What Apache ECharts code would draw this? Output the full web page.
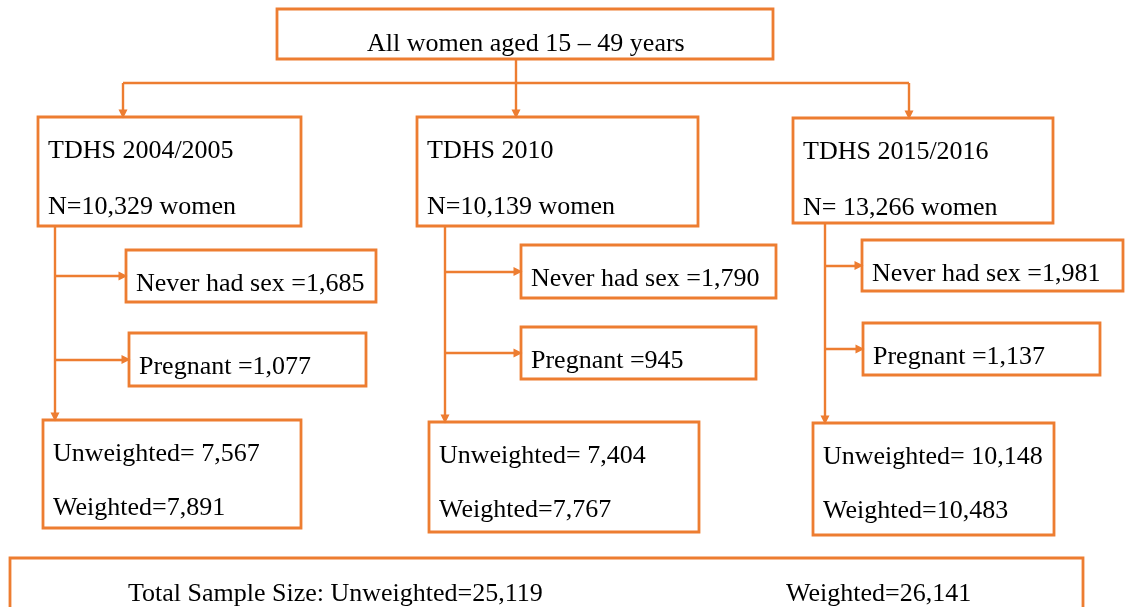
<!DOCTYPE html>
<html lang="en">
<head>
    <meta charset="UTF-8">
    <title>TDHS sample flow</title>
    <script src="https://cdn.jsdelivr.net/npm/echarts@6/dist/echarts.min.js"></script>
    <style>
        html, body { margin: 0; padding: 0; background: #fff; }
    </style>
</head>
<body>
    <div id="main" style="width:1128px;height:607px;"></div>

    <script>
    // ---- data ----
    var rootLabel = 'All women aged 15 \u2013 49 years';
    var surveys = ['TDHS 2004/2005', 'TDHS 2010', 'TDHS 2015/2016'];
    var womenN = [10329, 10139, 13266];
    var womenPrefix = ['N=', 'N=', 'N= '];
    var neverHadSex = [1685, 1790, 1981];
    var pregnant = [1077, 945, 1137];
    var unweighted = [7567, 7404, 10148];
    var weighted = [7891, 7767, 10483];
    var totalUnweighted = 25119;
    var totalWeighted = 26141;

    // ---- layout (pixel units on the hidden axes) ----
    var rootBox = [277, 9, 773, 59];
    var dropX = [123, 516, 909];          // where the arrows drop into each survey box
    var busY = 83;
    var trunkX = [55, 445, 825];
    var surveyBox = [[38, 117, 301, 226], [417, 117, 698, 226], [793, 118, 1053, 223]];
    var neverBox = [[126, 250, 376, 302], [521, 245, 776, 298], [862, 240, 1123, 291]];
    var pregBox = [[129, 333, 366, 386], [521, 327, 756, 379], [863, 323, 1100, 375]];
    var resultBox = [[43, 420, 301, 528], [429, 422, 699, 532], [813, 423, 1054, 535]];
    var totalBox = [10, 558, 1083, 625];
    var pad = 10;

    var ORANGE = '#ED7D31';
    var FONT = '26px "Liberation Serif", "Times New Roman", serif';

    function fmt(n) {
        return String(n).replace(/\B(?=(\d{3})+(?!\d))/g, ',');
    }

    // boxes: rect + text lines (dx, dy from box top-left)
    var boxes = [];
    boxes.push({ rect: rootBox, lines: [{ text: rootLabel, dx: 90, dy: 35 }] });
    for (var i = 0; i < surveys.length; i++) {
        boxes.push({ rect: surveyBox[i], lines: [
            { text: surveys[i], dx: pad, dy: 34 },
            { text: womenPrefix[i] + fmt(womenN[i]) + ' women', dx: pad, dy: 90 }
        ] });
        boxes.push({ rect: neverBox[i], lines: [{ text: 'Never had sex =' + fmt(neverHadSex[i]), dx: pad, dy: 34 }] });
        boxes.push({ rect: pregBox[i], lines: [{ text: 'Pregnant =' + fmt(pregnant[i]), dx: pad, dy: 34 }] });
        boxes.push({ rect: resultBox[i], lines: [
            { text: 'Unweighted= ' + fmt(unweighted[i]), dx: pad, dy: 34 },
            { text: 'Weighted=' + fmt(weighted[i]), dx: pad, dy: 88 }
        ] });
    }
    boxes.push({ rect: totalBox, lines: [
        { text: 'Total Sample Size: Unweighted=' + fmt(totalUnweighted), dx: 118, dy: 36 },
        { text: 'Weighted=' + fmt(totalWeighted), dx: 776, dy: 36 }
    ] });

    // connectors
    var tip = 3;
    var links = [];
    links.push({ coords: [[dropX[0], busY], [dropX[2], busY]], symbol: ['none', 'none'] });
    links.push({ coords: [[dropX[1], rootBox[3]], [dropX[1], surveyBox[1][1] - tip]] });
    links.push({ coords: [[dropX[0], busY], [dropX[0], surveyBox[0][1] - tip]] });
    links.push({ coords: [[dropX[2], busY], [dropX[2], surveyBox[2][1] - tip]] });
    for (var j = 0; j < surveys.length; j++) {
        var nb = neverBox[j], pb = pregBox[j];
        links.push({ coords: [[trunkX[j], surveyBox[j][3]], [trunkX[j], resultBox[j][1] - tip]] });
        links.push({ coords: [[trunkX[j], (nb[1] + nb[3]) / 2], [nb[0] - tip, (nb[1] + nb[3]) / 2]] });
        links.push({ coords: [[trunkX[j], (pb[1] + pb[3]) / 2], [pb[0] - tip, (pb[1] + pb[3]) / 2]] });
    }

    var myChart = echarts.init(document.getElementById('main'));

    var option = {
        backgroundColor: '#fff',
        animation: false,
        grid: { left: 0, right: 0, top: 0, bottom: 0 },
        xAxis: { type: 'value', min: 0, max: 1128, show: false },
        yAxis: { type: 'value', min: 0, max: 607, inverse: true, show: false },
        series: [
            {
                type: 'custom',
                clip: false,
                silent: true,
                z: 2,
                data: boxes.map(function (b, k) {
                    return [b.rect[0], b.rect[1], b.rect[2], b.rect[3], k];
                }),
                encode: { x: [0, 2], y: [1, 3] },
                renderItem: function (params, api) {
                    var b = boxes[api.value(4)];
                    var p1 = api.coord([api.value(0), api.value(1)]);
                    var p2 = api.coord([api.value(2), api.value(3)]);
                    var children = [{
                        type: 'rect',
                        shape: { x: p1[0], y: p1[1], width: p2[0] - p1[0], height: p2[1] - p1[1] },
                        style: { fill: '#fff', stroke: ORANGE, lineWidth: 2.8 }
                    }];
                    b.lines.forEach(function (ln) {
                        var p = api.coord([b.rect[0] + ln.dx, b.rect[1] + ln.dy]);
                        children.push({
                            type: 'text',
                            style: {
                                text: ln.text, x: p[0], y: p[1],
                                font: FONT, fill: '#000',
                                align: 'left', verticalAlign: 'middle'
                            }
                        });
                    });
                    return { type: 'group', children: children };
                }
            },
            {
                type: 'lines',
                coordinateSystem: 'cartesian2d',
                silent: true,
                z: 3,
                symbol: ['none', 'triangle'],
                symbolSize: 9,
                lineStyle: { color: ORANGE, width: 2.4, opacity: 1, curveness: 0 },
                data: links
            }
        ]
    };

    myChart.setOption(option);
    </script>
</body>
</html>
